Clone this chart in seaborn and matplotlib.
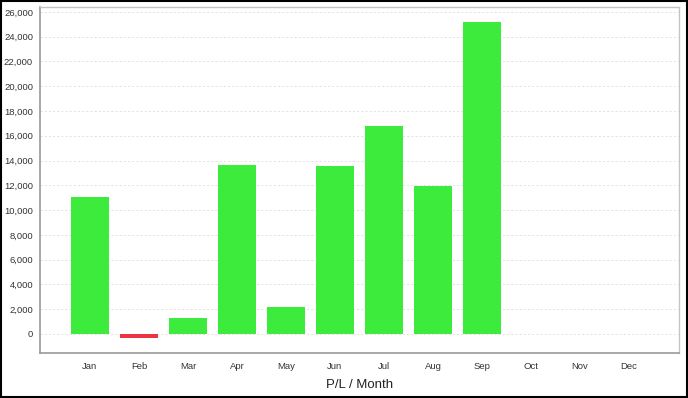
import numpy as np
import pandas as pd
import seaborn as sns
import matplotlib
matplotlib.use('Agg')
import matplotlib.pyplot as plt
from matplotlib.ticker import FuncFormatter, MultipleLocator

# monthly profit / loss values
months = ['Jan', 'Feb', 'Mar', 'Apr', 'May', 'Jun', 'Jul', 'Aug', 'Sep', 'Oct', 'Nov', 'Dec']
pl_values = [11050, -300, 1260, 13650, 2210, 13570, 16830, 11950, 25170, 0, 0, 0]

df = pd.DataFrame({'Month': months, 'PL': pl_values})
df['Color'] = np.where(df['PL'] < 0, 'loss', 'profit')

sns.set_style('white')
plt.rcParams['font.family'] = ['Liberation Sans', 'DejaVu Sans']

fig = plt.figure(figsize=(6.88, 3.98), dpi=100)
ax = fig.add_axes([40 / 688, 45 / 398, 639 / 688, 346 / 398])

palette = {'profit': '#3deb3d', 'loss': '#eb3440'}
sns.barplot(data=df, x='Month', y='PL', hue='Color', palette=palette,
            dodge=False, width=0.76, legend=False, ax=ax,
            linewidth=0, saturation=1)

ax.set_xlim(-1.02, 12.02)
ax.set_ylim(-1540, 26400)
ax.yaxis.set_major_locator(MultipleLocator(2000))
ax.yaxis.set_major_formatter(FuncFormatter(lambda v, p: f'{int(v):,}'))
ax.grid(axis='y', color='#dedede', linestyle=(0, (2.5, 2.5)), linewidth=0.6)
ax.set_axisbelow(True)

ax.tick_params(axis='both', labelsize=6.8, colors='#333333', length=2.5,
               width=0.7, direction='out', pad=2.5)
ax.tick_params(axis='both', color='#999999')
ax.tick_params(axis='x', pad=4)
ax.set_xlabel('P/L / Month', fontsize=9.5, color='#222222', labelpad=5.5)
ax.set_ylabel('')

for side in ['left', 'bottom']:
    ax.spines[side].set_color('#999999')
    ax.spines[side].set_linewidth(1.2)
for side in ['top', 'right']:
    ax.spines[side].set_color('#c4c4c4')
    ax.spines[side].set_linewidth(1.0)

# black frame around the whole picture
fig.patches.append(plt.Rectangle((0.001, 0.002), 0.997, 0.996, transform=fig.transFigure,
                                 fill=False, edgecolor='black', linewidth=1.5))

fig.savefig('out.png', dpi=100)
